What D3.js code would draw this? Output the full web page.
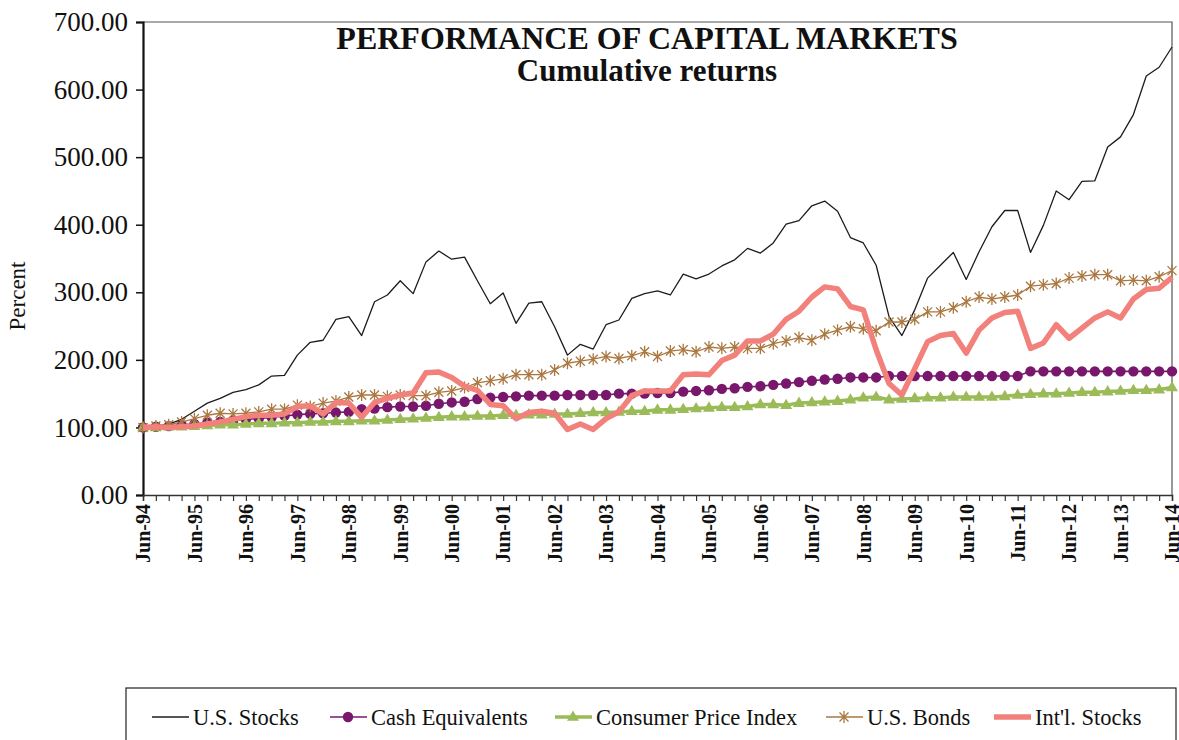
<!DOCTYPE html>
<html>
<head>
<meta charset="utf-8">
<script src="https://cdn.jsdelivr.net/npm/d3@7"></script>
<style>
  body { margin: 0; background: #fff; }
  svg { display: block; }
  svg text { font-family: "Liberation Serif", "Times New Roman", serif; }
</style>
</head>
<body>
<svg id="chart" width="1179" height="740"></svg>
<script>
// quarterly points, Jun-94 .. Jun-14
var startDate = new Date(1994, 5, 1);
var quarters = d3.range(81).map(function(i){ return d3.timeFormat("%b-%y")(d3.timeMonth.offset(startDate, 3 * i)); });
var yTicks = [0, 100, 200, 300, 400, 500, 600, 700];

var usStocks = [100,102,105,112,124, 136,143,152,156,163, 176,177,207,226,229,
  260,264,236,286,296, 317,298,345,361,349, 352,317,283,299,254,
  284,286,249,207,223, 216,252,259,291,298, 302,296,327,320,327,
  339,348,365,358,373, 401,406,428,435,420, 381,373,340,264,236,
  274,321,340,359,319, 360,397,421,421,359, 399,450,437,464,465,
  515,530,563,620,633, 663];

var cashEq = [100,101,102,104,105, 107,108,110,112,113, 115,117,119,120,121,
  122,123,127,128,130, 131,131,132,135,137, 138,142,144,145,146,
  147,147,147,148,148, 148,148,150,150,150, 151,151,153,154,155,
  157,158,160,161,163, 165,167,169,171,172, 174,174,174,176,176,
  176,176,176,176,176, 176,176,176,176,183, 183,183,183,183,183,
  183,183,183,183,183, 183];

var cpi = [100,100,101,101,102, 103,104,104,105,106, 106,107,107,108,108,
  109,109,110,110,111, 112,113,114,115,116, 116,117,117,118,118,
  119,119,120,120,121, 122,122,123,124,124, 126,126,127,128,129,
  130,130,131,134,134, 133,136,137,138,139, 141,144,145,141,142,
  143,144,144,145,145, 145,145,146,148,149, 150,150,151,152,152,
  153,154,155,155,156, 159];

var usBonds = [100,102,104,108,113, 118,121,120,121,123, 127,127,133,131,136,
  139,145,148,148,146, 148,147,147,152,154, 159,166,169,172,178,
  178,178,185,195,198, 201,205,202,206,212, 205,213,215,212,219,
  217,219,217,217,224, 228,233,229,238,244, 249,246,243,256,256,
  260,271,271,277,286, 293,290,293,296,309, 311,313,321,324,326,
  326,317,318,317,323, 332];

var intlStocks = [100,101,100,101,102, 105,108,112,116,118, 118,120,131,132,120,
  137,136,115,137,143, 148,151,181,182,174, 161,155,134,132,113,
  122,124,121,97,105, 97,113,123,147,154, 154,154,178,179,178,
  199,207,228,228,238, 260,272,293,308,305, 279,274,215,165,148,
  187,227,236,239,210, 244,262,270,272,217, 225,252,232,247,262,
  271,262,290,304,306, 322];

const margin = {top: 22, right: 7, bottom: 245, left: 143};
var width = 1179 - margin.left - margin.right;
var height = 740 - margin.top - margin.bottom;

var svg = d3.select("#chart");
var g = svg.append("g").attr("transform", "translate(" + margin.left + "," + margin.top + ")");

var x = d3.scalePoint().domain(quarters).range([0, width]);
var y = d3.scaleLinear().domain([0, 700]).range([height, 0]);

// frame (top / right)
g.append("path")
  .attr("d", "M0,0H" + width + "V" + height)
  .attr("fill", "none").attr("stroke", "#555").attr("stroke-width", 1.2);

// y axis
var yAxis = g.append("g")
  .call(d3.axisLeft(y).tickValues(yTicks).tickFormat(d3.format(".2f")).tickSize(7).tickPadding(8));
yAxis.attr("font-family", null);
yAxis.select(".domain").attr("stroke", "#111").attr("stroke-width", 2.2);
yAxis.selectAll(".tick line").attr("stroke", "#111").attr("stroke-width", 1.5);
yAxis.selectAll("text").style("font-size", "27px").attr("fill", "#111");

// x axis, tick every quarter, label each June
var xAxis = g.append("g").attr("transform", "translate(0," + height + ")")
  .call(d3.axisBottom(x).tickSize(6).tickFormat(function(d){ return d.indexOf("Jun") === 0 ? d : ""; }));
xAxis.attr("font-family", null);
xAxis.select(".domain").attr("stroke", "#333").attr("stroke-width", 1.5);
xAxis.selectAll(".tick line").attr("stroke", "#333").attr("stroke-width", 1.2);
xAxis.selectAll("text")
  .style("font-size", "20px").attr("font-weight", "bold").attr("fill", "#111")
  .attr("text-anchor", "end")
  .attr("transform", "rotate(-90)")
  .attr("x", -9).attr("y", 0).attr("dy", "0.34em");

// y title
svg.append("text")
  .attr("transform", "translate(25,296) rotate(-90)")
  .attr("text-anchor", "middle")
  .style("font-size", "23px").attr("fill", "#111")
  .text("Percent");

// title
svg.append("text").attr("x", 647).attr("y", 49).attr("text-anchor", "middle")
  .style("font-size", "32px").attr("font-weight", "bold").attr("fill", "#111")
  .text("PERFORMANCE OF CAPITAL MARKETS");
svg.append("text").attr("x", 647).attr("y", 81).attr("text-anchor", "middle")
  .style("font-size", "31px").attr("font-weight", "bold").attr("fill", "#111")
  .text("Cumulative returns");

var series = [
  {name: "U.S. Stocks", values: usStocks, color: "#1c1c1c", width: 1.3, marker: null},
  {name: "Cash Equivalents", values: cashEq, color: "#78176c", width: 1.6, marker: "circle"},
  {name: "Consumer Price Index", values: cpi, color: "#9bbb59", width: 3.5, marker: "triangle"},
  {name: "U.S. Bonds", values: usBonds, color: "#a9773f", width: 1.3, marker: "star"},
  {name: "Int'l. Stocks", values: intlStocks, color: "#f2807b", width: 5.5, marker: null}
];

var line = d3.line()
  .x(function(d, i){ return x(quarters[i]); })
  .y(function(d){ return y(d); });

var triPath = "M0,-6.5L6,3.8L-6,3.8Z";
var starPath = "M-4.5,-4.5L4.5,4.5M-4.5,4.5L4.5,-4.5M0,-6V6";

function drawMarker(sel, type, color){
  if(type === "circle"){
    sel.append("circle").attr("r", 5.2).attr("fill", color);
  } else if(type === "triangle"){
    sel.append("path").attr("d", triPath).attr("fill", color);
  } else if(type === "star"){
    sel.append("path").attr("d", starPath).attr("stroke", color).attr("stroke-width", 1.3).attr("fill", "none");
  }
}

series.forEach(function(s){
  var sg = g.append("g");
  sg.append("path")
    .datum(s.values)
    .attr("d", line)
    .attr("fill", "none")
    .attr("stroke", s.color)
    .attr("stroke-width", s.width)
    .attr("stroke-linejoin", "round");
  if(s.marker){
    sg.selectAll("g.mk")
      .data(s.values)
      .enter()
      .append("g")
        .attr("class", "mk")
        .attr("transform", function(d, i){ return "translate(" + x(quarters[i]) + "," + y(d) + ")"; })
        .each(function(){ drawMarker(d3.select(this), s.marker, s.color); });
  }
});

// legend
var legend = svg.append("g");
legend.append("rect")
  .attr("x", 126).attr("y", 688).attr("width", 1050).attr("height", 70)
  .attr("fill", "#fff").attr("stroke", "#222").attr("stroke-width", 1.2);

var legendX = [152, 330, 555, 826, 994];
var legendY = 717;
series.forEach(function(s, i){
  var lg = legend.append("g").attr("transform", "translate(" + legendX[i] + "," + legendY + ")");
  lg.append("line").attr("x1", 0).attr("x2", 37).attr("y1", 0).attr("y2", 0)
    .attr("stroke", s.color).attr("stroke-width", s.width);
  if(s.marker){
    var m = lg.append("g").attr("transform", "translate(18,0)");
    drawMarker(m, s.marker, s.color);
  }
  lg.append("text").attr("x", 41).attr("y", 8)
    .style("font-size", "22.5px").attr("fill", "#111")
    .text(s.name);
});
</script>
</body>
</html>
